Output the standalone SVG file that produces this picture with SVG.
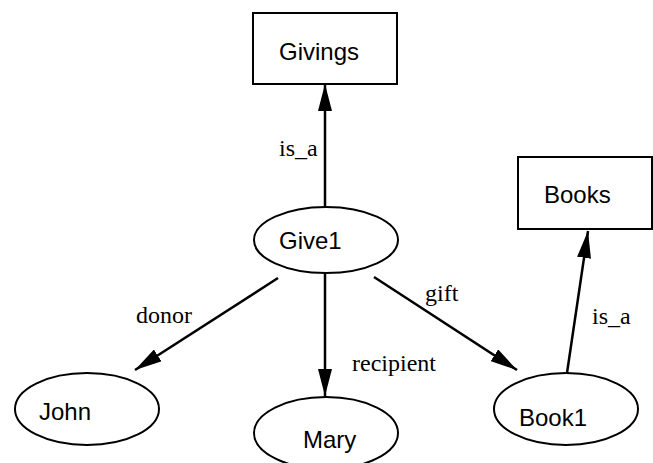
<svg xmlns="http://www.w3.org/2000/svg" width="653" height="463" viewBox="0 0 653 463">
<style>
.node{fill:#fff;stroke:#000;stroke-width:2}
.nl{font-family:"Liberation Sans",Arial,sans-serif;font-size:24px;fill:#000}
.el{font-family:"Liberation Serif","Times New Roman",serif;font-size:24px;fill:#000}
.edge{stroke:#000;stroke-width:2.5;fill:none;marker-end:url(#ah)}
</style>
<defs>
<marker id="ah" markerUnits="userSpaceOnUse" markerWidth="28" markerHeight="14" refX="27" refY="7" orient="auto">
<path d="M0,0 L27,7 L0,14 Z" fill="#000"/>
</marker>
</defs>
<g id="connectors">
<line class="edge" x1="325" y1="207" x2="325" y2="84"/>
<line class="edge" x1="278" y1="278" x2="135" y2="370"/>
<line class="edge" x1="325" y1="272" x2="325" y2="396"/>
<line class="edge" x1="374" y1="277" x2="517" y2="370"/>
<line class="edge" x1="567" y1="373" x2="588" y2="231"/>
<text class="el" x="279" y="156">is_a</text>
<text class="el" x="136" y="323">donor</text>
<text class="el" x="352" y="371">recipient</text>
<text class="el" x="425" y="301">gift</text>
<text class="el" x="592" y="324">is_a</text>
</g>
<g id="givings"><rect class="node" x="253" y="13" width="144" height="71"/><text class="nl" x="279" y="60">Givings</text></g>
<g id="books"><rect class="node" x="518" y="157" width="134" height="72"/><text class="nl" x="544" y="203">Books</text></g>
<g id="give1"><ellipse class="node" cx="326" cy="240" rx="72" ry="33"/><text class="nl" x="279" y="249">Give1</text></g>
<g id="john"><ellipse class="node" cx="87" cy="409" rx="72" ry="36"/><text class="nl" x="39" y="420">John</text></g>
<g id="mary"><ellipse class="node" cx="326" cy="433" rx="72" ry="36"/><text class="nl" x="303" y="448">Mary</text></g>
<g id="book1"><ellipse class="node" cx="566" cy="409" rx="72" ry="36"/><text class="nl" x="519" y="426">Book1</text></g>
</svg>
